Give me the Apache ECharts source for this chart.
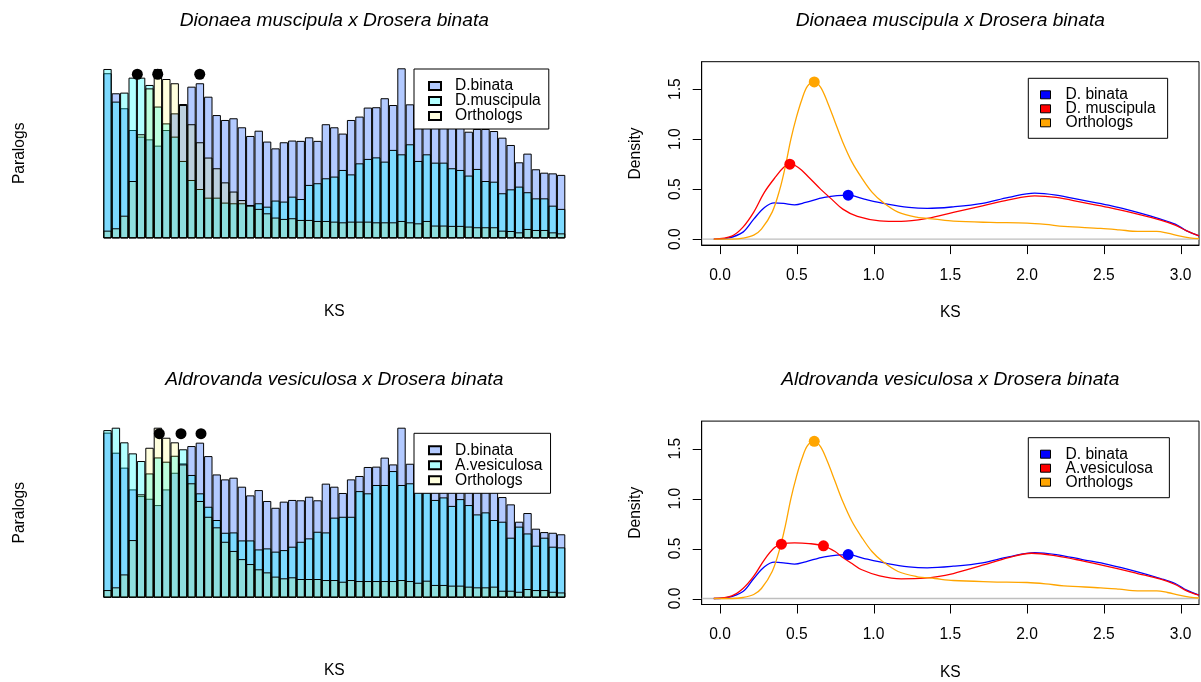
<!DOCTYPE html>
<html>
<head>
<meta charset="utf-8">
<script src="https://cdn.jsdelivr.net/npm/echarts@6/dist/echarts.min.js"></script>
<style>
  html, body { margin: 0; padding: 0; background: #fff; }
  #chart { width: 1201px; height: 682px; }
</style>
</head>
<body>
<div id="chart"></div>
<script>
// ---------- histogram data (bar heights, relative to each series' tallest bin = 100) ----------
const binCount = 55;
const binLabels = Array.from({ length: binCount }, (_, i) => String(i + 1));

const binataHist = [97.1, 85.3, 76.5, 63.7, 59.8, 58.2, 54.5, 63.7, 73.5, 79.0,
  89.2, 91.2, 83.3, 72.5, 69.6, 70.6, 65.3, 60.2, 63.3, 56.9,
  52.9, 56.5, 57.5, 57.3, 59.4, 57.3, 67.1, 65.3, 61.6, 69.6,
  71.6, 76.9, 77.1, 82.4, 78.4, 100, 78.8, 74.5, 71.6, 69.6,
  68.6, 67.6, 66.3, 62.7, 64.3, 64.3, 63.1, 59.2, 54.9, 44.7,
  49.8, 40.6, 38.6, 38.2, 37.3];

const muscipulaHist = [99.6, 80.4, 85.7, 94.5, 94.5, 90.2, 77.5, 67.6, 59.8, 45.5,
  34.3, 29.0, 23.9, 23.9, 21.0, 20.6, 20.6, 19.6, 20.6, 18.6,
  22.2, 21.6, 24.5, 23.1, 31.4, 32.4, 35.3, 36.3, 40.2, 37.6,
  44.1, 46.7, 47.6, 45.1, 52.0, 49.4, 55.3, 45.5, 49.4, 44.5,
  44.5, 41.2, 40.2, 36.9, 40.8, 33.7, 33.3, 26.5, 28.8, 30.4,
  27.1, 23.5, 23.5, 19.2, 17.3];

const orthologsHist1 = [4.5, 5.9, 13.3, 33.7, 61.2, 88.2, 99.6, 93.7, 91.2, 78.4,
  67.1, 56.5, 47.5, 41.2, 32.9, 27.5, 22.5, 19.2, 17.3, 14.7,
  12.2, 11.4, 11.8, 10.8, 10.8, 10.2, 10.2, 9.8, 9.4, 9.8,
  9.8, 9.8, 9.4, 9.4, 9.4, 10.2, 9.4, 8.8, 10.2, 7.5,
  7.5, 7.3, 7.3, 6.9, 6.5, 6.5, 6.5, 4.5, 4.3, 3.5,
  5.5, 4.9, 4.9, 3.5, 2.9];

const vesiculosaHist = [98.6, 100, 91.4, 84.9, 80.4, 73.1, 82.5, 80.0, 83.5, 87.3,
  72.2, 61.4, 53.5, 45.7, 38.2, 38.4, 33.7, 33.7, 28.4, 29.0,
  27.1, 28.0, 30.0, 32.9, 34.9, 38.8, 38.4, 47.1, 47.6, 47.6,
  62.7, 61.4, 66.3, 66.3, 74.5, 66.3, 67.3, 67.0, 62.0, 57.5,
  59.0, 54.0, 58.0, 54.5, 49.0, 50.2, 45.7, 44.7, 35.3, 41.8,
  37.8, 30.6, 35.3, 30.0, 29.6];

const orthologsHist2 = [4.5, 6.1, 13.7, 33.9, 60.8, 88.2, 100, 94.1, 91.4, 78.4,
  67.3, 56.9, 47.6, 41.4, 32.9, 27.5, 22.7, 19.8, 16.7, 14.9,
  12.4, 11.4, 12.0, 11.0, 11.0, 11.0, 10.4, 10.4, 9.4, 10.4,
  9.8, 9.8, 9.8, 9.8, 9.8, 10.4, 9.8, 8.8, 10.0, 7.5,
  7.5, 7.1, 7.1, 6.5, 6.1, 6.1, 6.5, 4.1, 4.1, 3.5,
  5.1, 4.5, 4.5, 3.5, 3.1];

// peak markers above the histograms (position in bins, height on the 0-100 scale)
const histPeaks1 = [4.05, 6.48, 11.48];
const histPeaks2 = [6.67, 9.25, 11.63];
const histPeakLevel = 96.5;

// ---------- density curves: [KS, density] ----------
const binataDensity = [[-0.04, 0], [0.05, 0.01], [0.15, 0.07], [0.22, 0.2], [0.29, 0.317],
  [0.354, 0.363], [0.414, 0.357], [0.486, 0.343], [0.558, 0.367], [0.68, 0.417],
  [0.835, 0.44], [0.94, 0.40], [1.09, 0.35], [1.23, 0.317], [1.35, 0.307],
  [1.52, 0.323], [1.71, 0.357], [1.88, 0.417], [2.05, 0.46], [2.19, 0.44],
  [2.36, 0.39], [2.53, 0.34], [2.72, 0.267], [2.87, 0.2], [2.965, 0.15],
  [3.04, 0.083], [3.12, 0.033]];

const muscipulaDensity = [[-0.04, 0], [0.077, 0.03], [0.15, 0.12], [0.22, 0.27], [0.29, 0.47],
  [0.366, 0.63], [0.414, 0.717], [0.455, 0.75], [0.51, 0.717], [0.58, 0.617],
  [0.655, 0.5], [0.727, 0.4], [0.8, 0.3], [0.895, 0.227], [1.04, 0.183],
  [1.18, 0.177], [1.35, 0.207], [1.52, 0.267], [1.71, 0.333], [1.88, 0.393],
  [2.05, 0.433], [2.19, 0.417], [2.36, 0.367], [2.53, 0.317], [2.72, 0.25],
  [2.87, 0.19], [2.965, 0.14], [3.04, 0.083], [3.12, 0.033]];

const vesiculosaDensity = [[-0.04, 0], [0.077, 0.027], [0.15, 0.1], [0.22, 0.223], [0.29, 0.39],
  [0.354, 0.507], [0.40, 0.543], [0.486, 0.557], [0.58, 0.55], [0.674, 0.527],
  [0.75, 0.47], [0.80, 0.41], [0.86, 0.35], [0.92, 0.29], [1.04, 0.227],
  [1.18, 0.197], [1.33, 0.203], [1.52, 0.25], [1.71, 0.333], [1.88, 0.41],
  [2.03, 0.453], [2.19, 0.427], [2.36, 0.377], [2.53, 0.32], [2.72, 0.25],
  [2.87, 0.193], [2.965, 0.14], [3.04, 0.077], [3.12, 0.033]];

const orthologsDensity = [[-0.04, 0], [0.08, 0], [0.15, 0.01], [0.22, 0.04], [0.27, 0.1],
  [0.34, 0.27], [0.39, 0.5], [0.426, 0.73], [0.462, 1.0], [0.498, 1.22],
  [0.534, 1.4], [0.57, 1.53], [0.614, 1.573], [0.655, 1.52], [0.70, 1.37],
  [0.75, 1.17], [0.80, 0.97], [0.86, 0.77], [0.92, 0.62], [0.99, 0.47],
  [1.06, 0.37], [1.16, 0.27], [1.28, 0.22], [1.40, 0.20], [1.52, 0.18],
  [1.76, 0.167], [2.0, 0.16], [2.12, 0.147], [2.24, 0.127], [2.48, 0.107],
  [2.60, 0.093], [2.72, 0.077], [2.845, 0.077], [2.915, 0.06], [2.99, 0.033],
  [3.06, 0.013], [3.12, 0.005]];

// density peaks
const peaksBinata = [[0.835, 0.44]];
const peaksMuscipula = [[0.455, 0.75]];
const peaksVesiculosa = [[0.40, 0.543], [0.674, 0.527]];
const peaksOrthologs = [[0.614, 1.573]];

const ksTicks = [0, 0.5, 1, 1.5, 2, 2.5, 3];
const densityTicks = [0, 0.5, 1, 1.5];
const KS_MIN = -0.119, KS_MAX = 3.12, DENS_MIN = -0.06, DENS_MAX = 1.775;

const titles = ['Dionaea muscipula x Drosera binata', 'Aldrovanda vesiculosa x Drosera binata'];

// ---------- styling ----------
const FONT = '"Liberation Sans", Arial, Helvetica, sans-serif';
const BASE = 15.6;
const TICK_LEN = 9;
const colBinataHist = 'rgba(50,110,255,0.37)';
const colSecondHist = 'rgba(0,255,255,0.3)';
const colOrthoHist = 'rgba(255,255,0,0.13)';
const colBlue = '#0000FF', colRed = '#FF0000', colOrange = '#FFA500';
const ROW = 359.4; // vertical offset between the two rows of panels

const txt = (extra) => Object.assign({ fontFamily: FONT, fontSize: BASE, color: '#000' }, extra || {});

function histBar(name, data, color, xi, yi) {
  return {
    type: 'bar', name, data, xAxisIndex: xi, yAxisIndex: yi,
    barGap: '-100%', barCategoryGap: '0%',
    itemStyle: { color, borderColor: '#000', borderWidth: 1 },
    emphasis: { disabled: true }, silent: true
  };
}
function peakDots(xs, xi, yi) {
  return {
    type: 'scatter', data: xs.map(x => [x, histPeakLevel]), xAxisIndex: xi, yAxisIndex: yi,
    symbolSize: 11, itemStyle: { color: '#000', opacity: 1 }, z: 5, silent: true
  };
}
function curve(name, data, color, xi, yi) {
  return {
    type: 'line', name, data, xAxisIndex: xi, yAxisIndex: yi,
    smooth: 0.35, symbol: 'none', lineStyle: { color, width: 1.3 },
    itemStyle: { color }, z: 3, silent: true
  };
}
function dots(data, color, xi, yi) {
  return {
    type: 'scatter', data, xAxisIndex: xi, yAxisIndex: yi,
    symbolSize: 11, itemStyle: { color, opacity: 1 }, z: 4, silent: true
  };
}
function zeroLine(xi, yi) {
  return {
    type: 'line', data: [[KS_MIN, 0], [KS_MAX, 0]], xAxisIndex: xi, yAxisIndex: yi,
    symbol: 'none', lineStyle: { color: '#BEBEBE', width: 1.3 }, z: 2, silent: true
  };
}

const histGrid = (row) => ({ left: 103.3, top: 68.3 + row * ROW, width: 462, height: 170 });
const densGrid = (row) => ({
  left: 701.7, top: 61.7 + row * ROW, width: 497.3, height: 183.4,
  show: true, borderColor: '#000', borderWidth: 1, backgroundColor: 'transparent'
});

const hidden = { axisLine: { show: false }, axisTick: { show: false }, axisLabel: { show: false }, splitLine: { show: false } };

function histX(gi) {
  return Object.assign({
    type: 'category', gridIndex: gi, data: binLabels, boundaryGap: true,
    name: 'KS', nameLocation: 'middle', nameGap: 65, nameTextStyle: txt()
  }, hidden);
}
function histXPos(gi) {
  return Object.assign({ type: 'value', gridIndex: gi, min: 0, max: binCount }, hidden);
}
function histY(gi) {
  return Object.assign({
    type: 'value', gridIndex: gi, min: 0, max: 100,
    name: 'Paralogs', nameLocation: 'middle', nameRotate: 90, nameGap: 76, nameTextStyle: txt()
  }, hidden);
}
const boxLine = { show: true, onZero: false, lineStyle: { color: '#000', width: 1 } };
function densX(gi) {
  return {
    type: 'value', gridIndex: gi, min: KS_MIN, max: KS_MAX, position: 'bottom',
    name: 'KS', nameLocation: 'middle', nameGap: 60, nameTextStyle: txt(),
    axisLine: boxLine,
    axisTick: { show: false },
    axisLabel: { show: true, margin: 22.5, customValues: ksTicks, formatter: v => v.toFixed(1), ...txt() },
    splitLine: { show: false }
  };
}
function densY(gi) {
  return {
    type: 'value', gridIndex: gi, min: DENS_MIN, max: DENS_MAX, position: 'left',
    name: 'Density', nameLocation: 'middle', nameRotate: 90, nameGap: 58, nameTextStyle: txt(),
    axisLine: boxLine,
    axisTick: { show: false },
    axisLabel: { show: true, margin: 18, rotate: 90, customValues: densityTicks, formatter: v => v.toFixed(1), ...txt() },
    splitLine: { show: false }
  };
}

function histLegend(names, row) {
  return {
    orient: 'vertical', left: 414, top: row === 0 ? 69 : 433.3, data: names,
    backgroundColor: '#fff', borderColor: '#000', borderWidth: 1, borderRadius: 0,
    padding: [9, 8, 5, 14], itemGap: -1, itemWidth: 12, itemHeight: 8, icon: 'rect',
    selectedMode: false,
    textStyle: txt({ lineHeight: 15, padding: [0, 0, 0, 9] })
  };
}
const legendText = { 'Orthologs (density)': 'Orthologs' };
function densLegend(names, row) {
  return {
    orient: 'vertical', left: 1028.3, top: 78.3 + row * ROW, data: names,
    backgroundColor: '#fff', borderColor: '#000', borderWidth: 1, borderRadius: 0,
    padding: [8.5, 12, 7.5, 11.7], itemGap: -2, itemWidth: 10, itemHeight: 8, icon: 'rect',
    selectedMode: false,
    itemStyle: { borderColor: '#000', borderWidth: 1 },
    formatter: n => legendText[n] || n,
    textStyle: txt({ lineHeight: 14, padding: [0, 0, 0, 10] })
  };
}

function title(text, cx, row) {
  return {
    text, left: cx, top: 11 + row * ROW, textAlign: 'center', padding: 0,
    textStyle: txt({ fontSize: 19.2, fontStyle: 'italic', fontWeight: 'normal' })
  };
}

const option = {
  animation: false,
  backgroundColor: '#fff',
  title: [
    title(titles[0], 334.3, 0),
    title(titles[0], 950.3, 0),
    title(titles[1], 334.3, 1),
    title(titles[1], 950.3, 1)
  ],
  grid: [histGrid(0), histGrid(1), densGrid(0), densGrid(1)],
  xAxis: [histX(0), histXPos(0), histX(1), histXPos(1), densX(2), densX(3)],
  yAxis: [histY(0), histY(1), densY(2), densY(3)],
  legend: [
    histLegend(['D.binata', 'D.muscipula', 'Orthologs'], 0),
    histLegend(['D.binata', 'A.vesiculosa', 'Orthologs'], 1),
    densLegend(['D. binata', 'D. muscipula', 'Orthologs (density)'], 0),
    densLegend(['D. binata', 'A.vesiculosa ', 'Orthologs (density)'], 1)
  ],
  series: [
    // top-left histogram
    histBar('D.binata', binataHist, colBinataHist, 0, 0),
    histBar('D.muscipula', muscipulaHist, colSecondHist, 0, 0),
    histBar('Orthologs', orthologsHist1, colOrthoHist, 0, 0),
    peakDots(histPeaks1, 1, 0),
    // bottom-left histogram
    histBar('D.binata', binataHist, colBinataHist, 2, 1),
    histBar('A.vesiculosa', vesiculosaHist, colSecondHist, 2, 1),
    histBar('Orthologs', orthologsHist2, colOrthoHist, 2, 1),
    peakDots(histPeaks2, 3, 1),
    // top-right densities
    zeroLine(4, 2),
    curve('D. binata', binataDensity, colBlue, 4, 2),
    curve('D. muscipula', muscipulaDensity, colRed, 4, 2),
    curve('Orthologs (density)', orthologsDensity, colOrange, 4, 2),
    dots(peaksBinata, colBlue, 4, 2),
    dots(peaksMuscipula, colRed, 4, 2),
    dots(peaksOrthologs, colOrange, 4, 2),
    // bottom-right densities
    zeroLine(5, 3),
    curve('D. binata', binataDensity, colBlue, 5, 3),
    curve('A.vesiculosa ', vesiculosaDensity, colRed, 5, 3),
    curve('Orthologs (density)', orthologsDensity, colOrange, 5, 3),
    dots(peaksBinata, colBlue, 5, 3),
    dots(peaksVesiculosa, colRed, 5, 3),
    dots(peaksOrthologs, colOrange, 5, 3)
  ]
};

const chart = echarts.init(document.getElementById('chart'), null, { renderer: 'canvas' });
chart.setOption(option);

// outward tick marks of the density panels, placed through the axes' own scales
const tickElements = [];
[[4, 2], [5, 3]].forEach(([xi, yi]) => {
  const finder = { xAxisIndex: xi, yAxisIndex: yi };
  const bottom = chart.convertToPixel(finder, [KS_MIN, DENS_MIN])[1];
  const left = chart.convertToPixel(finder, [KS_MIN, DENS_MIN])[0];
  ksTicks.forEach(v => {
    const x = Math.round(chart.convertToPixel(finder, [v, DENS_MIN])[0]) + 0.5;
    tickElements.push({ type: 'line', silent: true, z: 10,
      shape: { x1: x, y1: bottom, x2: x, y2: bottom + TICK_LEN },
      style: { stroke: '#000', lineWidth: 1 } });
  });
  densityTicks.forEach(v => {
    const y = Math.round(chart.convertToPixel(finder, [KS_MIN, v])[1]) + 0.5;
    tickElements.push({ type: 'line', silent: true, z: 10,
      shape: { x1: left - TICK_LEN, y1: y, x2: left, y2: y },
      style: { stroke: '#000', lineWidth: 1 } });
  });
});
chart.setOption({ graphic: { elements: tickElements } });
</script>
</body>
</html>
